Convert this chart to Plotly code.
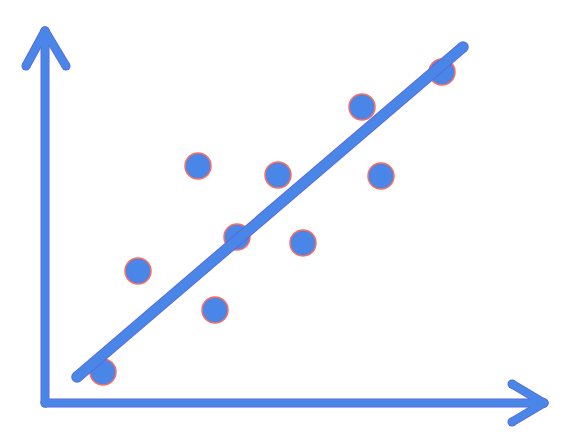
import plotly.graph_objects as go

# Scatter data (units measured from the axis origin)
x_vals = [58, 93, 153, 170, 192, 233, 258, 317, 336, 397]
y_vals = [31, 132, 237, 93, 166, 228, 160, 296, 227, 331]

# Trend line end points
trend_x = [32, 418]
trend_y = [26, 356]

# Axis arrows: shaft end points and arrowhead wing points
y_axis_top = 372
x_axis_end = 499
y_head_x = [-19, 0, 21]
y_head_y = [337, 372, 337]
x_head_x = [467, 499, 467]
x_head_y = [19, 0, -19]

BLUE = "#4a86e8"
EDGE = "#5a62d8"
RED = "#ff6b5e"

fig = go.Figure()


def seg(xs, ys, width, color):
    fig.add_trace(go.Scatter(x=xs, y=ys, mode="lines",
                             line=dict(color=color, width=width),
                             hoverinfo="skip", showlegend=False))
    fig.add_trace(go.Scatter(x=xs, y=ys, mode="markers",
                             marker=dict(color=color, size=width, line=dict(width=0)),
                             hoverinfo="skip", showlegend=False))


AW = 7.5
for w, c in [(AW + 1.5, EDGE), (AW, BLUE)]:
    seg([0, 0], [0, y_axis_top], w, c)
    seg([0, x_axis_end], [0, 0], w, c)
    seg([y_head_x[0], y_head_x[1]], [y_head_y[0], y_head_y[1]], w, c)
    seg([y_head_x[1], y_head_x[2]], [y_head_y[1], y_head_y[2]], w, c)
    seg([x_head_x[0], x_head_x[1]], [x_head_y[0], x_head_y[1]], w, c)
    seg([x_head_x[1], x_head_x[2]], [x_head_y[1], x_head_y[2]], w, c)

fig.add_trace(go.Scatter(x=x_vals, y=y_vals, mode="markers",
                         marker=dict(color=BLUE, size=26, line=dict(color=RED, width=1.5)),
                         hoverinfo="skip", showlegend=False))

TW = 10
for w, c in [(TW + 1.5, EDGE), (TW, BLUE)]:
    seg(trend_x, trend_y, w, c)

# ranges offset by 8px to compensate the page's default body margin
fig.update_layout(
    width=568, height=438,
    margin=dict(l=0, r=0, t=0, b=0),
    paper_bgcolor="white", plot_bgcolor="white",
    showlegend=False,
    xaxis=dict(range=[-37, 531], visible=False, fixedrange=True),
    yaxis=dict(range=[-43, 395], visible=False, fixedrange=True),
)

fig.write_html("out.html", config={"displayModeBar": False})
